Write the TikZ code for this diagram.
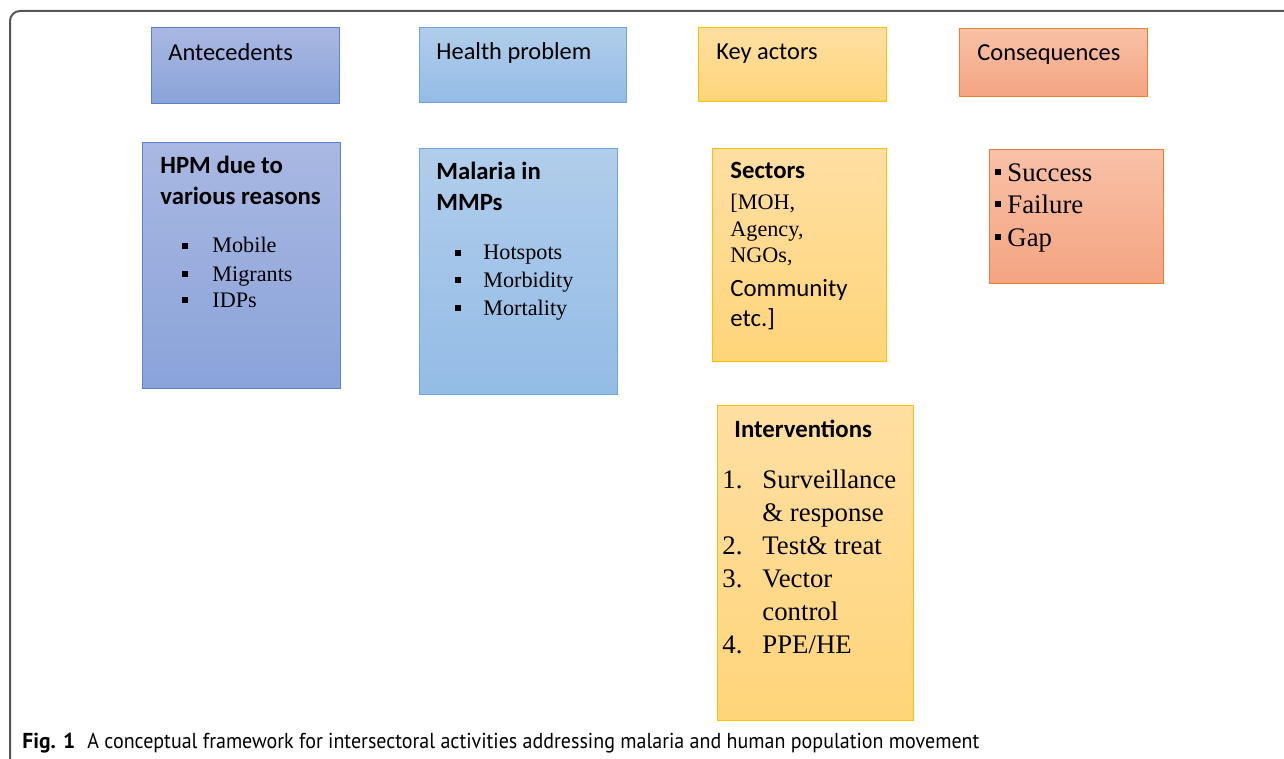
\documentclass[tikz,border=0pt]{standalone}
\usepackage{fontspec}
\usepackage{graphicx}
\setmainfont{Liberation Serif}
\newfontfamily\calib{Carlito}
\newfontfamily\capfont{PT Sans}
\usetikzlibrary{positioning}

\definecolor{antTop}{HTML}{A9B8E2}
\definecolor{antBot}{HTML}{8AA3DA}
\definecolor{antLine}{HTML}{5A82D0}
\definecolor{hpTop}{HTML}{B1CDEB}
\definecolor{hpBot}{HTML}{93BCE6}
\definecolor{hpLine}{HTML}{6FA5DA}
\definecolor{kaTop}{HTML}{FFDFA2}
\definecolor{kaBot}{HTML}{FFD57A}
\definecolor{kaLine}{HTML}{FFC000}
\definecolor{cqTop}{HTML}{F8C1A7}
\definecolor{cqBot}{HTML}{F4A481}
\definecolor{cqLine}{HTML}{ED7D31}
\definecolor{frameGray}{HTML}{555555}

\newcommand{\sqbul}[1]{\raisebox{#1}{\rule{3pt}{3pt}}}

\begin{document}
\begin{tikzpicture}[x=0.5pt,y=-0.5pt,
	box/.style={anchor=north west,inner sep=0pt,line width=0.6pt},
	antbox/.style={box,draw=antLine,top color=antTop,bottom color=antBot},
	hpbox/.style={box,draw=hpLine,top color=hpTop,bottom color=hpBot},
	kabox/.style={box,draw=kaLine,top color=kaTop,bottom color=kaBot},
	cqbox/.style={box,draw=cqLine,top color=cqTop,bottom color=cqBot},
	txt/.style={anchor=base west,inner sep=0pt},
	head/.style={txt,font=\calib\fontsize{12.2}{14}\selectfont},
	bold/.style={txt,font=\calib\bfseries\fontsize{12.4}{14}\selectfont},
	sans/.style={txt,font=\calib\fontsize{12.4}{14}\selectfont},
	item/.style={txt,font=\fontsize{11.1}{13}\selectfont},
	bigitem/.style={txt,font=\fontsize{13.4}{15}\selectfont}]
\useasboundingbox (0,0) rectangle (1284,759);
\draw[frameGray,line width=1pt,rounded corners=5pt] (10,11) rectangle (1310,785);

% column headers
\node[antbox,minimum width=94pt,minimum height=38pt] (ant) at (151,27) {};
\node[hpbox,minimum width=103.5pt,minimum height=37.5pt] (hp) at (419,27) {};
\node[kabox,minimum width=94pt,minimum height=37pt] (ka) at (698,27) {};
\node[cqbox,minimum width=94pt,minimum height=34pt] (cq) at (959,28) {};
\node[head] (antT) at (168,61) {Antecedents};
\node[head] (hpT) at (436,60) {Health problem};
\node[head] (kaT) at (716,60) {Key actors};
\node[head] (cqT) at (977,61) {Consequences};

% content boxes
\node[antbox,minimum width=99pt,minimum height=123pt] (hpm) at (142,142) {};
\node[hpbox,minimum width=99pt,minimum height=123pt] (mal) at (419,148) {};
\node[kabox,minimum width=87pt,minimum height=106.5pt] (sec) at (712,148) {};
\node[kabox,minimum width=98pt,minimum height=157.5pt] (intv) at (717,405) {};
\node[cqbox,minimum width=87pt,minimum height=67pt] (res) at (989,149) {};

% antecedents
\node[bold] (hpm1) at (160,174) {HPM due to};
\node[bold] (hpm2) at (160,205) {various reasons};
\foreach \t/\y [count=\i] in {Mobile/253,Migrants/281,IDPs/307}{
	\node[item,anchor=base east] (hpmB\i) at (188,\y) {\sqbul{2pt}};
	\node[item] (hpmI\i) at (212,\y) {\t};
}

% health problem
\node[bold] (mal1) at (436,180) {Malaria in};
\node[bold] (mal2) at (436,211) {MMPs};
\foreach \t/\y [count=\i] in {Hotspots/260,Morbidity/287,Mortality/315}{
	\node[item,anchor=base east] (malB\i) at (461,\y) {\sqbul{2pt}};
	\node[item] (malI\i) at (483,\y) {\t};
}

% key actors
\node[bold] (sec1) at (730,179) {Sectors};
\foreach \t/\y [count=\i] in {{[MOH,}/210,{Agency,}/237,{NGOs,}/263}
	\node[item] (secI\i) at (730,\y) {\t};
\node[sans] (secC) at (730,296) {Community};
\node[sans] (secE) at (730,326) {etc.]};

\node[bold] (intv1) at (734,437) {Interventions};
\foreach \n/\y in {1/488,2/554,3/587,4/653}
	\node[bigitem] (intvN\n) at (722,\y) {\n.};
\foreach \t/\y [count=\i] in {Surveillance/488,{\& response}/521,{Test\& treat}/554,Vector/587,control/620,{PPE/HE}/653}
	\node[bigitem] (intvI\i) at (762,\y) {\t};

% consequences
\foreach \t/\y [count=\i] in {Success/182,Failure/214,Gap/247}{
	\node[bigitem,anchor=base east] (resB\i) at (1001,\y) {\sqbul{3.5pt}};
	\node[bigitem] (resI\i) at (1007,\y) {\t};
}

% caption
\node[txt,font=\capfont\bfseries\fontsize{10.8}{12}\selectfont] (fig) at (22,748) {\resizebox{26.5pt}{\height}{Fig. 1}};
\node[txt,font=\capfont\fontsize{10.8}{12}\selectfont] (cap) at (87,748) {\resizebox{446pt}{\height}{A conceptual framework for intersectoral activities addressing malaria and human population movement}};
\end{tikzpicture}
\end{document}
